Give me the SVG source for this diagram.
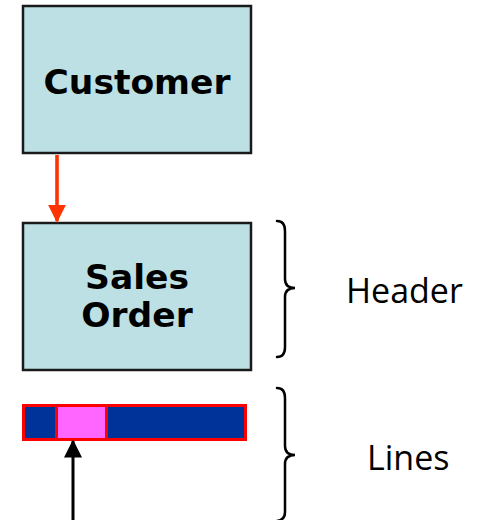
<svg xmlns="http://www.w3.org/2000/svg" width="477" height="520" viewBox="0 0 477 520">
<style>
.box{fill:#BCE0E4;stroke:#1a1a1a;stroke-width:2.5}
.lbl{font-family:"DejaVu Sans",Verdana,sans-serif;font-weight:bold;font-size:34.5px;fill:#000;text-anchor:middle}
.side{font-family:"Open Sans","Liberation Sans",sans-serif;font-size:34px;fill:#000}
.brace{fill:none;stroke:#000;stroke-width:2.5;stroke-linecap:round}
</style>
<defs>
<marker id="ahR" markerWidth="5" markerHeight="5" refX="4.5" refY="2.5" orient="auto" markerUnits="strokeWidth" viewBox="0 0 5 5"><path d="M0,0 L5,2.5 L0,5 Z" fill="#FF3300"/></marker>
<marker id="ahB" markerWidth="6" markerHeight="6" refX="5.5" refY="3" orient="auto" markerUnits="strokeWidth" viewBox="0 0 6 6"><path d="M0,0 L6,3 L0,6 Z" fill="#000"/></marker>
</defs>
<g id="customer">
<rect class="box" x="23" y="6" width="228" height="147"/>
<text class="lbl" x="137" y="94">Customer</text>
</g>
<g id="sales-order">
<rect class="box" x="23" y="223" width="228" height="147"/>
<text class="lbl" x="137" y="289">Sales</text>
<text class="lbl" x="137" y="327">Order</text>
</g>
<g id="lines-bar">
<rect x="23.5" y="405.5" width="222" height="34" fill="#003399" stroke="#FF0000" stroke-width="3"/>
<rect x="56.5" y="405.5" width="50" height="34" fill="#FF66FF" stroke="#FF0000" stroke-width="3"/>
</g>
<g id="header-brace">
<path class="brace" d="M277,221 Q285,221 285,231 L285,279 Q285,288 295,288 Q285,288 285,297 L285,347 Q285,357 277,357"/>
<text class="side" x="346" y="303">Header</text>
</g>
<g id="lines-brace">
<path class="brace" d="M277,388 Q285,388 285,398 L285,446 Q285,455 295,455 Q285,455 285,464 L285,512 Q285,520 277,521"/>
<text class="side" x="367" y="470">Lines</text>
</g>
<g id="connectors">
<line x1="57" y1="155" x2="57" y2="221" stroke="#FF3300" stroke-width="3.6" marker-end="url(#ahR)"/>
<line x1="73" y1="520" x2="73" y2="441" stroke="#000" stroke-width="3" marker-end="url(#ahB)"/>
</g>
</svg>
